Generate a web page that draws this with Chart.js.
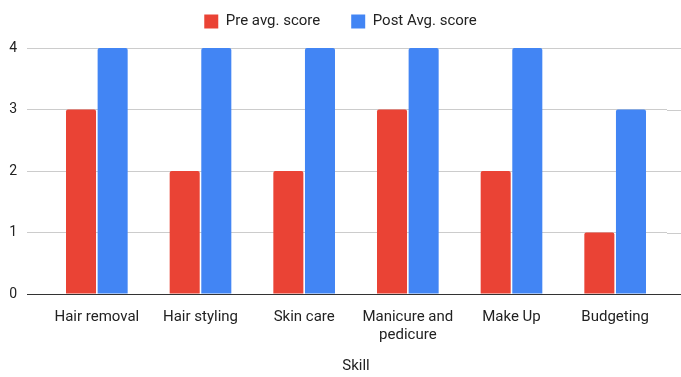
<!DOCTYPE html>
<html>
<head>
<meta charset="utf-8">
<script src="https://cdn.jsdelivr.net/npm/chart.js@4"></script>
<style>
  html, body { margin: 0; padding: 0; background: #fff; }
  #wrap { width: 681px; height: 377px; }
</style>
</head>
<body>
<div id="wrap"><canvas id="skillChart" width="681" height="377"></canvas></div>
<script>
var skills = ['Hair removal', 'Hair styling', 'Skin care', ['Manicure and', 'pedicure'], 'Make Up', 'Budgeting'];
var preScores = [3, 2, 2, 3, 2, 1];
var postScores = [4, 4, 4, 4, 4, 3];
var yTicks = [0, 1, 2, 3, 4];

// google-style gridlines run on to the right edge of the canvas
var gridExtend = {
    id: 'gridExtend',
    beforeDatasetsDraw: function(chart){
        var ctx = chart.ctx, y = chart.scales.y;
        ctx.save();
        yTicks.forEach(function(v){
            var py = Math.round(y.getPixelForValue(v)) + 0.5;
            ctx.strokeStyle = v === 0 ? '#333333' : '#cccccc';
            ctx.lineWidth = 1;
            ctx.beginPath();
            ctx.moveTo(chart.chartArea.right, py);
            ctx.lineTo(chart.width, py);
            ctx.stroke();
        });
        ctx.restore();
    }
};

// fixed legend height so the plot starts where the original does,
// and centre the legend on the whole canvas
var legendPlace = {
    id: 'legendPlace',
    beforeInit: function(chart){
        var fit = chart.legend.fit;
        chart.legend.fit = function(){
            fit.bind(chart.legend)();
            this.height = 65;
        };
    },
    beforeDraw: function(chart){
        chart.legend.left = 0;
        chart.legend.right = chart.width;
    }
};

var canvas = document.getElementById('skillChart').getContext('2d');
var chart = new Chart(canvas, {
    type: 'bar',
    data: {
        labels: skills,
        datasets: [
            {
                label: 'Pre avg. score',
                data: preScores,
                backgroundColor: '#ea4335',
                borderRadius: 2,
                borderSkipped: 'bottom'
            },
            {
                label: 'Post Avg. score',
                data: postScores,
                backgroundColor: '#4285f4',
                borderRadius: 2,
                borderSkipped: 'bottom'
            }
        ]
    },
    plugins: [gridExtend, legendPlace],
    options: {
        responsive: false,
        animation: false,
        categoryPercentage: 0.61,
        barPercentage: 0.95,
        layout: { padding: { left: 0, right: 14, top: -17, bottom: 0 } },
        plugins: {
            tooltip: { enabled: false },
            legend: {
                position: 'top',
                labels: {
                    boxWidth: 14,
                    boxHeight: 14,
                    padding: 31,
                    color: '#222222',
                    font: { family: 'Roboto', size: 15 }
                }
            }
        },
        scales: {
            x: {
                grid: { display: false },
                border: { display: false },
                ticks: {
                    padding: 6,
                    color: '#222222',
                    maxRotation: 0,
                    autoSkip: false,
                    font: { family: 'Roboto', size: 15, lineHeight: 1.2 }
                },
                title: {
                    display: true,
                    text: 'Skill',
                    color: '#222222',
                    font: { family: 'Roboto', size: 15 },
                    padding: { top: 4, bottom: 2 }
                },
                afterFit: function(scale){ scale.height = 83; }
            },
            y: {
                min: 0,
                max: 4,
                border: { display: false },
                grid: {
                    tickLength: 18,
                    color: function(c){ return c.tick && c.tick.value === 0 ? '#333333' : '#cccccc'; }
                },
                ticks: {
                    stepSize: 1,
                    padding: 10,
                    color: '#222222',
                    font: { family: 'Roboto', size: 14 }
                },
                afterFit: function(scale){ scale.width = 45; }
            }
        }
    }
});
</script>
</body>
</html>
